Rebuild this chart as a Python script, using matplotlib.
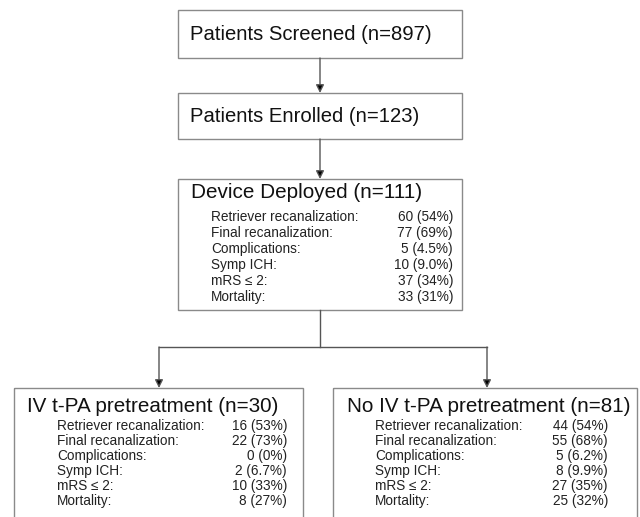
import matplotlib
matplotlib.use("Agg")
import matplotlib.pyplot as plt
from matplotlib.patches import Rectangle

plt.rcParams["font.family"] = ["Liberation Sans", "DejaVu Sans"]

# Flowchart content
screened_title = "Patients Screened (n=897)"
enrolled_title = "Patients Enrolled (n=123)"
deployed_title = "Device Deployed (n=111)"
ivtpa_title = "IV t-PA pretreatment (n=30)"
no_ivtpa_title = "No IV t-PA pretreatment (n=81)"

outcome_labels = [
    "Retriever recanalization:",
    "Final recanalization:",
    "Complications:",
    "Symp ICH:",
    "mRS \u2264 2:",
    "Mortality:",
]
deployed_values = ["60 (54%)", "77 (69%)", "5 (4.5%)", "10 (9.0%)", "37 (34%)", "33 (31%)"]
ivtpa_values = ["16 (53%)", "22 (73%)", "0 (0%)", "2 (6.7%)", "10 (33%)", "8 (27%)"]
no_ivtpa_values = ["44 (54%)", "55 (68%)", "5 (6.2%)", "8 (9.9%)", "27 (35%)", "25 (32%)"]

W, H = 640, 517
fig = plt.figure(figsize=(W / 100, H / 100), dpi=100)
ax = fig.add_axes([0, 0, 1, 1])
ax.set_xlim(0, W)
ax.set_ylim(H, 0)
ax.axis("off")

BOX_EC = "#8a8a8a"
LINE_C = "#555555"
TITLE_FS = 14.6
BIG_FS = 14.9
ROW_FS = 9.8


def box(x0, y0, x1, y1):
    ax.add_patch(Rectangle((x0, y0), x1 - x0, y1 - y0, fill=False,
                           ec=BOX_EC, lw=1.0))


def arrow(x, y0, y1):
    ax.annotate("", xy=(x, y1), xytext=(x, y0),
                arrowprops=dict(arrowstyle="-|>", color=LINE_C, lw=1.0,
                                shrinkA=0, shrinkB=0, mutation_scale=12,
                                fc="black"))


def rows(x_label, x_value, y_first, step, values):
    for i, (lab, val) in enumerate(zip(outcome_labels, values)):
        y = y_first + i * step
        ax.text(x_label, y, lab, fontsize=ROW_FS, va="center", ha="left", color="#222222")
        ax.text(x_value, y, val, fontsize=ROW_FS, va="center", ha="right", color="#222222")


# top boxes
box(178, 10, 462, 58)
ax.text(190, 34, screened_title, fontsize=TITLE_FS, va="center", ha="left", color="#111111")
arrow(320, 58, 93)

box(178, 93, 462, 139)
ax.text(190, 116, enrolled_title, fontsize=TITLE_FS, va="center", ha="left", color="#111111")
arrow(320, 139, 179)

# device deployed box
box(178, 179, 462, 310)
ax.text(191, 193, deployed_title, fontsize=BIG_FS, va="center", ha="left", color="#111111")
rows(211, 453, 217, 16, deployed_values)

# split
ax.plot([320, 320], [310, 347], color=LINE_C, lw=1.0)
ax.plot([159, 487], [347, 347], color=LINE_C, lw=1.0)
arrow(159, 347, 388)
arrow(487, 347, 388)

# bottom boxes (cut by image edge)
box(14, 388, 303, 530)
ax.text(27, 407, ivtpa_title, fontsize=BIG_FS, va="center", ha="left", color="#111111")
rows(57, 287, 426, 15, ivtpa_values)

box(333, 388, 637, 530)
ax.text(347, 407, no_ivtpa_title, fontsize=BIG_FS, va="center", ha="left", color="#111111")
rows(375, 608, 426, 15, no_ivtpa_values)

fig.savefig("out.png", dpi=100, facecolor="white")
